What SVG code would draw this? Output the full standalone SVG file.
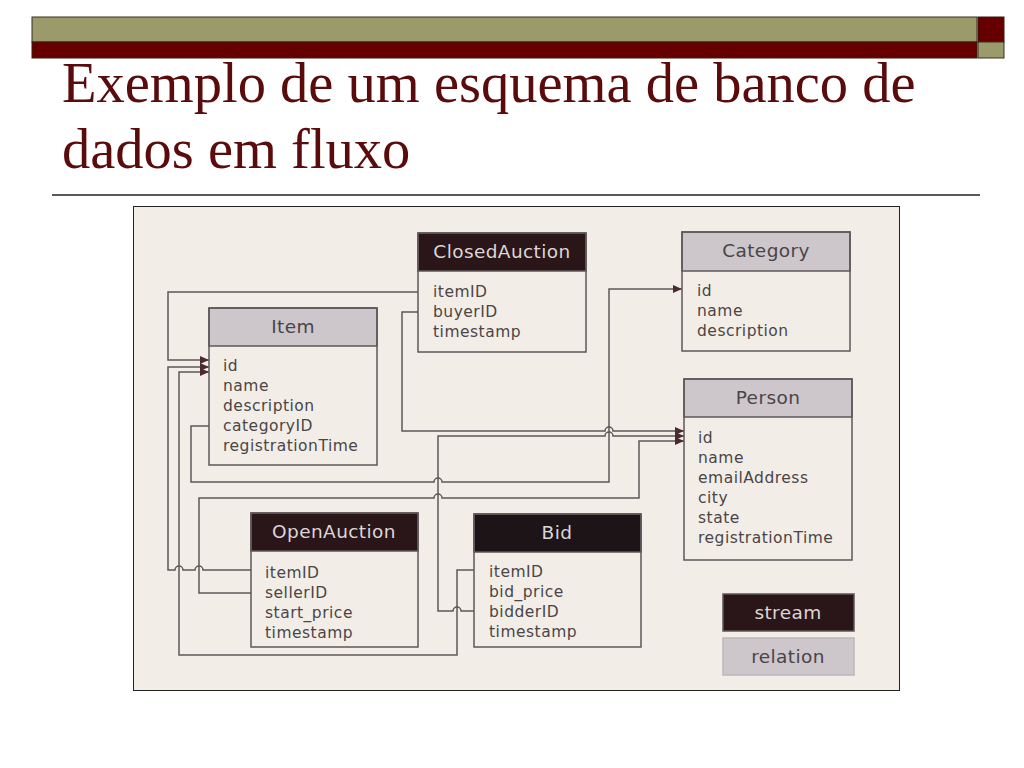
<svg xmlns="http://www.w3.org/2000/svg" width="1024" height="768" viewBox="0 0 1024 768">
<defs>
<style>
.title{font-family:"Liberation Serif","Times New Roman",serif;font-size:56.5px;fill:#5a0b0b}
.box{fill:none;stroke:#5d5759;stroke-width:1.5}
.hs{fill:#2a1518;stroke:#5d5759;stroke-width:1.5}
.hr{fill:#cdc7cb;stroke:#5d5759;stroke-width:1.5}
.ht{font-family:"DejaVu Sans",Verdana,sans-serif;font-size:18.5px;letter-spacing:0.4px;text-anchor:middle}
.hts{fill:#dcd6d6}
.htr{fill:#4a4448}
.f{font-family:"DejaVu Sans",Verdana,sans-serif;font-size:15.5px;letter-spacing:0.5px;fill:#4b4547}
.c{fill:none;stroke:#5d5759;stroke-width:1.5}
</style>
<marker id="ar" markerUnits="userSpaceOnUse" markerWidth="10" markerHeight="8" refX="9" refY="4" orient="auto">
<path d="M0,0 L9,4 L0,8 z" fill="#4a2a2e"/>
</marker>
</defs>
<rect width="1024" height="768" fill="#ffffff"/>
<g id="topbar">
<rect x="32" y="17" width="945" height="25" fill="#9b9a6a" stroke="#3a2f22" stroke-width="1"/>
<rect x="32" y="42" width="945" height="16" fill="#660000" stroke="#3a1a12" stroke-width="1"/>
<rect x="978" y="17" width="26" height="25" fill="#660000" stroke="#3a1a12" stroke-width="1"/>
<rect x="978" y="42" width="26" height="16" fill="#9b9a6a" stroke="#3a2f22" stroke-width="1"/>
</g>
<g id="title">
<text class="title" x="62" y="102">Exemplo de um esquema de banco de</text>
<text class="title" x="62" y="168">dados em fluxo</text>
<line x1="52" y1="195" x2="980" y2="195" stroke="#222" stroke-width="1.5"/>
</g>
<rect id="frame" x="133.5" y="206.5" width="766" height="484" fill="#f2eee7" stroke="#222" stroke-width="1"/>
<g id="connectors">
<path class="c" marker-end="url(#ar)" d="M418,292 H168 V360 H209"/>
<path class="c" marker-end="url(#ar)" d="M251,570 H203 A4,4 0 0 0 195,570 H183 A4,4 0 0 0 175,570 H168 V367 H209"/>
<path class="c" marker-end="url(#ar)" d="M474,570 H457 V655 H179 V372 H209"/>
<path class="c" marker-end="url(#ar)" d="M209,426 H191 V482 H434 A4,4 0 0 1 442,482 H609 V289 H682"/>
<path class="c" marker-end="url(#ar)" d="M418,312 H402 V431 H605 A4,4 0 0 1 613,431 H684"/>
<path class="c" marker-end="url(#ar)" d="M474,611 H461 A4,4 0 0 0 453,611 H438 V436 H605 A4,4 0 0 1 613,436 H684"/>
<path class="c" marker-end="url(#ar)" d="M251,593 H199 V498 H434 A4,4 0 0 1 442,498 H639 V441 H684"/>
</g>
<g id="ClosedAuction">
<rect class="hs" x="418" y="233" width="168" height="38"/>
<rect class="box" x="418" y="233" width="168" height="119"/>
<text class="ht hts" x="502" y="258">ClosedAuction</text>
<text class="f" x="433" y="297">itemID</text>
<text class="f" x="433" y="317">buyerID</text>
<text class="f" x="433" y="337">timestamp</text>
</g>
<g id="Item">
<rect class="hr" x="209" y="308" width="168" height="38"/>
<rect class="box" x="209" y="308" width="168" height="157"/>
<text class="ht htr" x="293" y="333">Item</text>
<text class="f" x="223" y="371">id</text>
<text class="f" x="223" y="391">name</text>
<text class="f" x="223" y="411">description</text>
<text class="f" x="223" y="431">categoryID</text>
<text class="f" x="223" y="451">registrationTime</text>
</g>
<g id="Category">
<rect class="hr" x="682" y="232" width="168" height="39"/>
<rect class="box" x="682" y="232" width="168" height="119"/>
<text class="ht htr" x="766" y="257">Category</text>
<text class="f" x="697" y="296">id</text>
<text class="f" x="697" y="316">name</text>
<text class="f" x="697" y="336">description</text>
</g>
<g id="Person">
<rect class="hr" x="684" y="379" width="168" height="38"/>
<rect class="box" x="684" y="379" width="168" height="181"/>
<text class="ht htr" x="768" y="404">Person</text>
<text class="f" x="698" y="443">id</text>
<text class="f" x="698" y="463">name</text>
<text class="f" x="698" y="483">emailAddress</text>
<text class="f" x="698" y="503">city</text>
<text class="f" x="698" y="523">state</text>
<text class="f" x="698" y="543">registrationTime</text>
</g>
<g id="OpenAuction">
<rect class="hs" x="251" y="513" width="167" height="38"/>
<rect class="box" x="251" y="513" width="167" height="134"/>
<text class="ht hts" x="334" y="538">OpenAuction</text>
<text class="f" x="265" y="578">itemID</text>
<text class="f" x="265" y="598">sellerID</text>
<text class="f" x="265" y="618">start_price</text>
<text class="f" x="265" y="638">timestamp</text>
</g>
<g id="Bid">
<rect class="hs" x="474" y="514" width="167" height="38" style="fill:#1c1416"/>
<rect class="box" x="474" y="514" width="167" height="133"/>
<text class="ht hts" x="557" y="539">Bid</text>
<text class="f" x="489" y="577">itemID</text>
<text class="f" x="489" y="597">bid_price</text>
<text class="f" x="489" y="617">bidderID</text>
<text class="f" x="489" y="637">timestamp</text>
</g>
<g id="legend-stream">
<rect class="hs" x="723" y="594" width="131" height="37"/>
<text class="ht hts" x="788" y="619">stream</text>
</g>
<g id="legend-relation">
<rect class="hr" x="723" y="638" width="131" height="37" style="stroke:#bdb7bb"/>
<text class="ht htr" x="788" y="663">relation</text>
</g>
</svg>
